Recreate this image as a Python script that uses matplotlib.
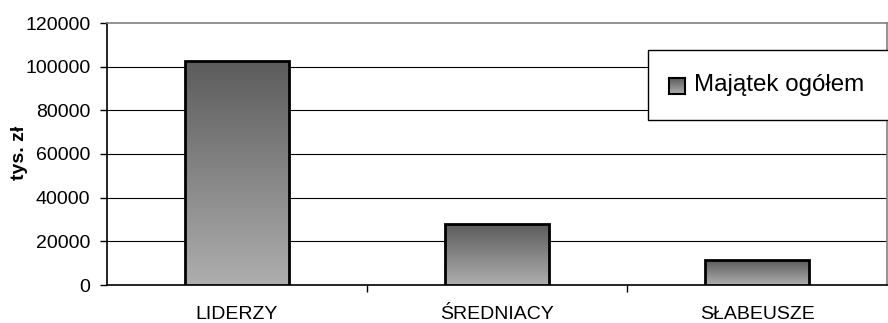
import numpy as np
import matplotlib.pyplot as plt
from matplotlib.patches import Rectangle
from matplotlib.colors import LinearSegmentedColormap

plt.rcParams["font.family"] = ["Liberation Sans", "DejaVu Sans"]

categories = ["LIDERZY", "ŚREDNIACY", "SŁABEUSZE"]
values = [102500, 27800, 11400]
series_name = "Majątek ogółem"
y_ticks = [0, 20000, 40000, 60000, 80000, 100000, 120000]

# vertical grey gradient, light at bottom, dark at top
grad_cmap = LinearSegmentedColormap.from_list("bar_grad", ["#aeaeae", "#5c5c5c"])

fig = plt.figure(figsize=(8.88, 3.23), dpi=100)
ax = fig.add_axes([107 / 888, 38 / 323, 780 / 888, 262 / 323])

x = np.arange(len(categories))
width = 0.4
grad = np.linspace(0, 1, 256).reshape(-1, 1)
for xi, v in zip(x, values):
    x0 = xi - width / 2
    im = ax.imshow(grad, extent=(x0, x0 + width, 0, v), origin="lower",
                   cmap=grad_cmap, aspect="auto", zorder=3)
    rect = Rectangle((x0, 0), width, v, facecolor="none", edgecolor="black",
                     linewidth=2, zorder=4)
    ax.add_patch(rect)
    im.set_clip_path(rect)

ax.set_xlim(-0.5, len(categories) - 0.5)
ax.set_ylim(0, 120000)
ax.set_yticks(y_ticks)
ax.set_yticklabels([str(t) for t in y_ticks], fontsize=14)
ax.set_xticks(x)
ax.set_xticklabels(categories, fontsize=14)
ax.tick_params(axis="x", length=0, pad=15)
ax.tick_params(axis="y", length=5, width=1, direction="out", pad=7)
ax.set_xticks([0.5, 1.5], minor=True)
ax.tick_params(axis="x", which="minor", length=5, width=1, direction="out")

for t in y_ticks[1:-1]:
    ax.axhline(t, color="black", linewidth=0.8, zorder=1)

for side in ["left", "bottom"]:
    ax.spines[side].set_color("black")
    ax.spines[side].set_linewidth(1.2)
for side in ["top", "right"]:
    ax.spines[side].set_color("#808080")
    ax.spines[side].set_linewidth(1.2)

fig.text(20 / 888, 1 - 153 / 323, "tys. zł", fontsize=14, fontweight="bold",
         rotation=90, ha="center", va="center")

# legend box reaching past the right edge
box = Rectangle((648 / 888, 1 - 120 / 323), 0.4, 70 / 323, transform=fig.transFigure,
                facecolor="white", edgecolor="black", linewidth=1, zorder=10)
fig.patches.append(box)

# gradient swatch
sw_ax = fig.add_axes([669 / 888, 1 - 94 / 323, 16 / 888, 16 / 323], zorder=11)
sw_ax.imshow(grad, origin="lower", cmap=grad_cmap, aspect="auto")
sw_ax.set_xticks([])
sw_ax.set_yticks([])
for s in sw_ax.spines.values():
    s.set_linewidth(1.5)
    s.set_color("black")

fig.text(694 / 888, 1 - 85 / 323, series_name, fontsize=17.4, va="center", ha="left",
         zorder=12)

fig.savefig("out.png", dpi=100)
